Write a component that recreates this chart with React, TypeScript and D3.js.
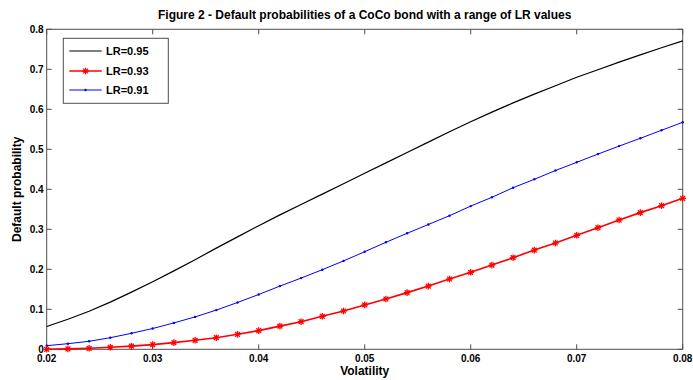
import * as d3 from "d3";
import React from "react";

// volatility grid 0.02 .. 0.08 step 0.002
const vols = [
  0.02, 0.022, 0.024, 0.026, 0.028, 0.03, 0.032, 0.034, 0.036, 0.038, 0.04,
  0.042, 0.044, 0.046, 0.048, 0.05, 0.052, 0.054, 0.056, 0.058, 0.06, 0.062,
  0.064, 0.066, 0.068, 0.07, 0.072, 0.074, 0.076, 0.078, 0.08,
];

const lr95 = [
  0.057, 0.075, 0.095, 0.118, 0.143, 0.169, 0.196, 0.224, 0.253, 0.281, 0.309,
  0.336, 0.362, 0.388, 0.414, 0.44, 0.466, 0.492, 0.518, 0.544, 0.569, 0.593,
  0.616, 0.638, 0.659, 0.68, 0.699, 0.718, 0.736, 0.754, 0.771,
];

const lr93 = [
  0.0, 0.001, 0.0025, 0.005, 0.008, 0.0117, 0.0167, 0.0225, 0.029, 0.0375,
  0.0467, 0.058, 0.069, 0.0825, 0.0957, 0.111, 0.1258, 0.1417, 0.158, 0.1758,
  0.1925, 0.2105, 0.229, 0.248, 0.2657, 0.285, 0.304, 0.3233, 0.3417, 0.359,
  0.3775,
];

const lr91 = [
  0.009, 0.014, 0.02, 0.029, 0.04, 0.052, 0.066, 0.081, 0.098, 0.117, 0.137,
  0.158, 0.178, 0.199, 0.221, 0.244, 0.2675, 0.29, 0.312, 0.334, 0.358, 0.38,
  0.404, 0.425, 0.447, 0.4675, 0.488, 0.508, 0.5275, 0.5475, 0.5675,
];

const xTicks = [0.02, 0.03, 0.04, 0.05, 0.06, 0.07, 0.08];
const yTicks = [0, 0.1, 0.2, 0.3, 0.4, 0.5, 0.6, 0.7, 0.8];

const W = 693;
const H = 380;
const left = 46.7, right = 682.7, top = 29.3, bottom = 349.3;
const font = "Arial, 'Liberation Sans', sans-serif";
const axisColor = "#4d4d4d";

const Star = ({ x, y }: { x: number; y: number }) => {
  const r = 3.3;
  const d = r * 0.72;
  return (
    <g stroke="red" strokeWidth={1.3}>
      <line x1={x - r} y1={y} x2={x + r} y2={y} />
      <line x1={x} y1={y - r} x2={x} y2={y + r} />
      <line x1={x - d} y1={y - d} x2={x + d} y2={y + d} />
      <line x1={x - d} y1={y + d} x2={x + d} y2={y - d} />
    </g>
  );
};

const App = () => {
  const x = d3.scaleLinear([0.02, 0.08], [left, right]);
  const y = d3.scaleLinear([0, 0.8], [bottom, top]);

  const line = d3
    .line<number>()
    .x((_, i) => x(vols[i]))
    .y((d) => y(d));

  return (
    <div style={{ position: "absolute", left: 0, top: 0 }}>
      <svg width={W} height={H} style={{ display: "block", background: "#fff" }}>
        <rect x={0} y={0} width={W} height={H} fill="#fff" />
        <text
          x={(left + right) / 2}
          y={19}
          textAnchor="middle"
          fontFamily={font}
          fontWeight="bold"
          fontSize={12}
        >
          Figure 2 - Default probabilities of a CoCo bond with a range of LR values
        </text>

        {/* axes box */}
        <rect
          x={left}
          y={top}
          width={right - left}
          height={bottom - top}
          fill="none"
          stroke={axisColor}
          strokeWidth={1}
        />
        {xTicks.map((t) => (
          <g key={"x" + t}>
            <line x1={x(t)} x2={x(t)} y1={bottom} y2={bottom - 5} stroke={axisColor} />
            <line x1={x(t)} x2={x(t)} y1={top} y2={top + 5} stroke={axisColor} />
            <text
              x={x(t)}
              y={bottom + 13}
              textAnchor="middle"
              fontFamily={font}
              fontWeight="bold"
              fontSize={10}
            >
              {d3.format(".2f")(t)}
            </text>
          </g>
        ))}
        {yTicks.map((t) => (
          <g key={"y" + t}>
            <line x1={left} x2={left + 5} y1={y(t)} y2={y(t)} stroke={axisColor} />
            <line x1={right} x2={right - 5} y1={y(t)} y2={y(t)} stroke={axisColor} />
            <text
              x={left - 3}
              y={y(t) + 3.5}
              textAnchor="end"
              fontFamily={font}
              fontWeight="bold"
              fontSize={10}
            >
              {t === 0 ? "0" : d3.format(".1f")(t)}
            </text>
          </g>
        ))}

        <text
          x={(left + right) / 2}
          y={375}
          textAnchor="middle"
          fontFamily={font}
          fontWeight="bold"
          fontSize={12}
        >
          Volatility
        </text>
        <text
          transform={`translate(21,${(top + bottom) / 2}) rotate(-90)`}
          textAnchor="middle"
          fontFamily={font}
          fontWeight="bold"
          fontSize={12}
        >
          Default probability
        </text>

        {/* series */}
        <path d={line(lr95) ?? ""} fill="none" stroke="black" strokeWidth={1.2} />
        <path d={line(lr91) ?? ""} fill="none" stroke="blue" strokeWidth={1} />
        {lr91.map((d, i) => (
          <circle key={"b" + i} cx={x(vols[i])} cy={y(d)} r={1.2} fill="blue" />
        ))}
        <path d={line(lr93) ?? ""} fill="none" stroke="red" strokeWidth={1.6} />
        {lr93.map((d, i) => (
          <Star key={"r" + i} x={x(vols[i])} y={y(d)} />
        ))}

        {/* legend */}
        <rect x={63.3} y={38.3} width={105} height={65} fill="#fff" stroke={axisColor} />
        <line x1={69.3} x2={101.7} y1={51} y2={51} stroke="black" strokeWidth={1.2} />
        <line x1={69.3} x2={101.7} y1={71} y2={71} stroke="red" strokeWidth={1.6} />
        <Star x={85.5} y={71} />
        <line x1={69.3} x2={101.7} y1={90} y2={90} stroke="blue" strokeWidth={1} />
        <circle cx={85.5} cy={90} r={1.2} fill="blue" />
        {[
          ["LR=0.95", 51],
          ["LR=0.93", 71],
          ["LR=0.91", 90],
        ].map(([label, ly]) => (
          <text
            key={label as string}
            x={106}
            y={(ly as number) + 4}
            fontFamily={font}
            fontWeight="bold"
            fontSize={11}
          >
            {label}
          </text>
        ))}
      </svg>
    </div>
  );
};

export default App;
